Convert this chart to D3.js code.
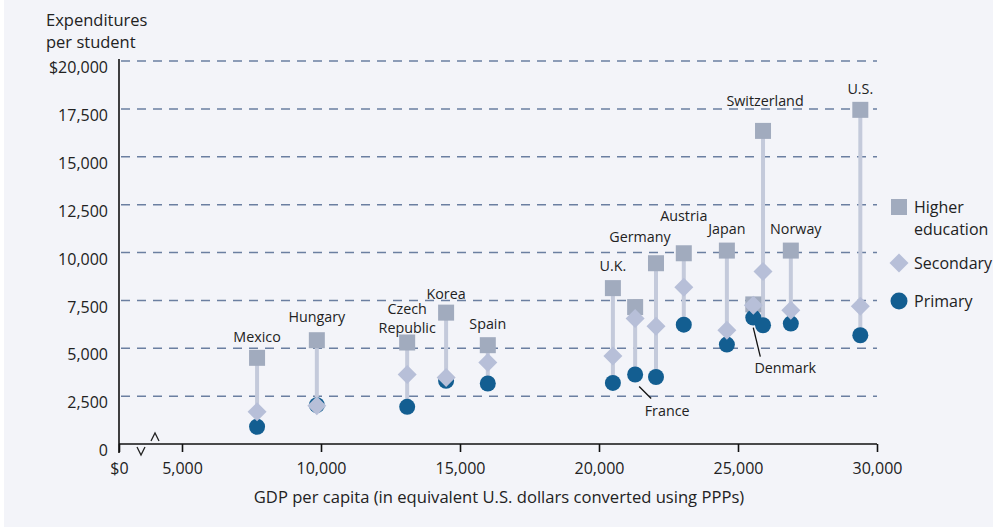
<!DOCTYPE html>
<html><head><meta charset="utf-8">
<script src="https://cdn.jsdelivr.net/npm/d3@7"></script>
<style>html,body{margin:0;padding:0;background:#fff;}svg{display:block;}text{font-family:"Open Sans",sans-serif;fill:#222;}</style>
</head><body>
<script>
const countries = ["Mexico","Hungary","Czech Republic","Korea","Spain","U.K.","France","Germany","Austria","Japan","Denmark","Switzerland","Norway","U.S."];
const gdp =       [7700, 9850, 13100, 14500, 16000, 20500, 21300, 22050, 23050, 24600, 25550, 25900, 26900, 29400];
const higher =    [4500, 5420, 5300, 6860, 5160, 8140, 7150, 9440, 9960, 10100, 7290, 16350, 10100, 17450];
const secondary = [1680, 2000, 3630, 3470, 4250, 4600, 6550, 6150, 8190, 5940, 7250, 9010, 6980, 7190];
const primary =   [900, 2030, 1940, 3300, 3160, 3190, 3630, 3500, 6230, 5190, 6600, 6200, 6290, 5680];
const yTicks = [0, 2500, 5000, 7500, 10000, 12500, 15000, 17500, 20000];
const yTickLabels = ["0","2,500","5,000","7,500","10,000","12,500","15,000","17,500","$20,000"];
const xTicks = [0, 5000, 10000, 15000, 20000, 25000, 30000];
const xTickLabels = ["$0","5,000","10,000","15,000","20,000","25,000","30,000"];
// label placement offsets (dx, dy relative to point x / higher-education y)
const labelPos = {
  "Mexico":[0,-16],"Hungary":[0,-18],"Czech Republic":[0,-29],"Korea":[0,-14],"Spain":[0,-16],
  "U.K.":[0,-17],"Germany":[-16,-21],"Austria":[0,-32],"Japan":[0,-17],"Switzerland":[2,-25],
  "Norway":[5,-17],"U.S.":[0,-16]
};
const legendItems = [["Higher","education"],["Secondary"],["Primary"]];

const W = 994, H = 527;
const svg = d3.select("body").append("svg").attr("width", W).attr("height", H);
svg.append("rect").attr("x",4).attr("y",0).attr("width",989).attr("height",527).attr("fill","#f3f4f9");

const x = d3.scaleLinear().domain([0, 5000, 30000]).range([119, 182, 877]);
const y = d3.scaleLinear().domain([0, 20000]).range([444, 61]);

const cSquare = "#a1abbe", cDiamond = "#b7bfd8", cCircle = "#135e91", cStem = "#c4cadb", cGrid = "#6b7fa1";

// gridlines
svg.append("g").selectAll("line").data(yTicks.filter(d=>d>0)).join("line")
  .attr("x1", x(0)+2).attr("x2", x(30000)).attr("y1", d=>y(d)).attr("y2", d=>y(d))
  .attr("stroke", cGrid).attr("stroke-width",1.5).attr("stroke-dasharray","9,7");

// axes
const yAxis = d3.axisLeft(y).tickValues(yTicks).tickFormat((d,i)=>yTickLabels[i]).tickSize(0).tickPadding(11);
const gy = svg.append("g").attr("transform",`translate(${x(0)},0)`).call(yAxis);
gy.select(".domain").attr("stroke","#111").attr("stroke-width",1.6).attr("d", `M0,${y(20000)-2}V${y(0)+9}`);
gy.selectAll("text").style("font-size","16px").style("font-family","Open Sans").attr("fill","#222").attr("dy","0.73em");

const xAxis = d3.axisBottom(x).tickValues(xTicks).tickFormat((d,i)=>xTickLabels[i]).tickSize(8).tickPadding(11);
const gx = svg.append("g").attr("transform",`translate(0,${y(0)})`).call(xAxis);
gx.select(".domain").attr("stroke","#111").attr("stroke-width",1.6).attr("d",`M${x(0)},0H${x(30000)}`);
gx.selectAll(".tick line").attr("stroke","#111").attr("stroke-width",1.6);
gx.selectAll("text").style("font-size","16px").style("font-family","Open Sans").attr("fill","#222");

// axis break marks
svg.append("path").attr("d",`M${x(0)+18},${y(0)+3}l4,8l4,-8`).attr("fill","none").attr("stroke","#222").attr("stroke-width",1.3);
svg.append("path").attr("d",`M${x(0)+32},${y(0)-3}l4,-8l4,8`).attr("fill","none").attr("stroke","#222").attr("stroke-width",1.3);

// titles
const yt = svg.append("text").attr("x",46).attr("y",26).style("font-size","16.5px");
yt.append("tspan").attr("x",46).text("Expenditures");
yt.append("tspan").attr("x",46).attr("dy",22).text("per student");
svg.append("text").attr("x",499).attr("y",503).attr("text-anchor","middle").style("font-size","16.6px")
  .text("GDP per capita (in equivalent U.S. dollars converted using PPPs)");

const data = countries.map((c,i)=>({c, g:gdp[i], h:higher[i], s:secondary[i], p:primary[i]}));

// stems
svg.append("g").selectAll("line").data(data).join("line")
  .attr("x1",d=>x(d.g)).attr("x2",d=>x(d.g))
  .attr("y1",d=>y(d.h)).attr("y2",d=>y(Math.min(d.s,d.p)))
  .attr("stroke",cStem).attr("stroke-width",4);

// squares
svg.append("g").selectAll("rect").data(data).join("rect")
  .attr("x",d=>x(d.g)-8).attr("y",d=>y(d.h)-8).attr("width",16).attr("height",16).attr("fill",cSquare);
// circles
svg.append("g").selectAll("circle").data(data).join("circle")
  .attr("cx",d=>x(d.g)).attr("cy",d=>y(d.p)).attr("r",8).attr("fill",cCircle);
// diamonds
svg.append("g").selectAll("path").data(data).join("path")
  .attr("transform",d=>`translate(${x(d.g)},${y(d.s)})`)
  .attr("d","M0,-9.5L9.5,0L0,9.5L-9.5,0Z").attr("fill",cDiamond);

// labels
data.forEach(d=>{
  const p = labelPos[d.c];
  if(!p) return;
  const t = svg.append("text").attr("text-anchor","middle").style("font-size","14.3px")
    .attr("x", x(d.g)+p[0]).attr("y", y(d.h)+p[1]);
  if(d.c==="Czech Republic"){
    t.append("tspan").attr("x",x(d.g)+p[0]).text("Czech");
    t.append("tspan").attr("x",x(d.g)+p[0]).attr("dy",19).text("Republic");
  } else t.text(d.c);
});
// France & Denmark callouts
const fr = data.find(d=>d.c==="France"), dk = data.find(d=>d.c==="Denmark");
svg.append("line").attr("x1",x(fr.g)+4).attr("y1",y(fr.p)+12).attr("x2",x(fr.g)+16).attr("y2",y(fr.p)+24).attr("stroke","#111").attr("stroke-width",1.3);
svg.append("text").attr("x",x(fr.g)+32).attr("y",y(fr.p)+42).attr("text-anchor","middle").style("font-size","14.3px").text("France");
svg.append("line").attr("x1",x(dk.g)).attr("y1",y(dk.p)+10).attr("x2",x(dk.g)+7).attr("y2",y(dk.p)+39).attr("stroke","#111").attr("stroke-width",1.3);
svg.append("text").attr("x",x(dk.g)+32).attr("y",y(dk.p)+55).attr("text-anchor","middle").style("font-size","14.3px").text("Denmark");

// legend
const lg = svg.append("g");
lg.append("rect").attr("x",891).attr("y",199).attr("width",16).attr("height",16).attr("fill",cSquare);
lg.append("path").attr("transform","translate(899,263)").attr("d","M0,-9.5L9.5,0L0,9.5L-9.5,0Z").attr("fill",cDiamond);
lg.append("circle").attr("cx",899).attr("cy",301).attr("r",8.5).attr("fill",cCircle);
const lt = lg.append("text").attr("x",914).attr("y",213).style("font-size","16px");
lt.append("tspan").attr("x",914).text(legendItems[0][0]);
lt.append("tspan").attr("x",914).attr("dy",22).text(legendItems[0][1]);
lg.append("text").attr("x",914).attr("y",269).style("font-size","16px").text(legendItems[1][0]);
lg.append("text").attr("x",914).attr("y",307).style("font-size","16px").text(legendItems[2][0]);
</script>
</body></html>
